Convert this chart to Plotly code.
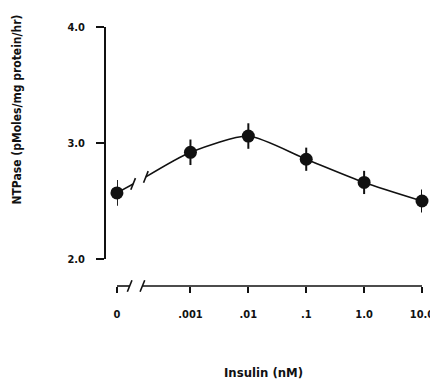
import plotly.graph_objects as go

# ---- data ----
dose_labels = ["0", ".001", ".01", ".1", "1.0", "10.0"]
dose_pos = [0.0, 1.27, 2.27, 3.27, 4.27, 5.27]   # axis positions (broken log scale)
ntpase = [2.57, 2.92, 3.06, 2.86, 2.66, 2.50]
err = [0.11, 0.11, 0.11, 0.10, 0.10, 0.10]
y_ticks = [2.0, 3.0, 4.0]
y_ticktext = ["2.0", "3.0", "4.0"]

FONT = "DejaVu Sans Condensed, DejaVu Sans, Liberation Sans, sans-serif"
black = "#111111"

# break positions on the axis (between 0 and .001)
brk1, brk2 = 0.28, 0.50
def interp(x):
    x0, x1 = dose_pos[0], dose_pos[1]
    y0, y1 = ntpase[0], ntpase[1]
    return y0 + (y1 - y0) * (x - x0) / (x1 - x0)

fig = go.Figure()
fig.add_trace(go.Scatter(x=[dose_pos[0], brk1], y=[ntpase[0], interp(brk1)],
                         mode="lines", line=dict(color=black, width=1.6),
                         hoverinfo="skip", showlegend=False))
fig.add_trace(go.Scatter(x=[brk2] + dose_pos[1:], y=[interp(brk2)] + ntpase[1:],
                         mode="lines", line=dict(color=black, width=1.6, shape="spline", smoothing=0.65),
                         hoverinfo="skip", showlegend=False))
fig.add_trace(go.Scatter(x=dose_pos, y=ntpase, mode="markers",
                         marker=dict(color=black, size=13),
                         error_y=dict(type="data", array=err, color=black, thickness=2, width=0),
                         cliponaxis=False, showlegend=False))

shapes = []
for xa, xb in [(dose_pos[0], brk1 - 0.06), (brk2 - 0.06, dose_pos[-1])]:
    shapes.append(dict(type="line", xref="x", yref="paper", x0=xa, x1=xb, y0=0, y1=0,
                       line=dict(color=black, width=1.6)))
for xb in [brk1 - 0.06, brk2 - 0.06]:
    shapes.append(dict(type="line", xref="x", yref="paper", x0=xb - 0.04, x1=xb + 0.04,
                       y0=-0.022, y1=0.022, line=dict(color=black, width=1.6)))
for xb in [brk1, brk2]:
    yb = interp(xb)
    shapes.append(dict(type="line", xref="x", yref="y", x0=xb - 0.04, x1=xb + 0.04,
                       y0=yb - 0.05, y1=yb + 0.05, line=dict(color=black, width=1.6)))

L, R, T, B = 97, 22, 19, 106
pw, ph = 438 - L - R, 384 - T - B

def px_x(x):
    return (x - (L + 8)) / pw
def px_y(y):
    return 1 - (y - (T + 8)) / ph

fig.update_layout(
    width=438, height=384,
    margin=dict(l=L, r=R, t=T, b=B),
    paper_bgcolor="white", plot_bgcolor="white",
    font=dict(family=FONT, color=black, size=11),
    shapes=shapes,
    xaxis=dict(domain=[12 / pw, 1], range=[dose_pos[0], dose_pos[-1]],
               tickvals=dose_pos, ticktext=dose_labels,
               showline=False, showgrid=False, zeroline=False,
               ticks="outside", ticklen=6, tickwidth=1.6, tickcolor=black,
               ticklabelstandoff=12,
               tickfont=dict(family=FONT, size=11, weight="bold"),
               anchor="free", position=0),
    yaxis=dict(domain=[27 / 259, 1], range=[2.0, 4.0],
               tickvals=y_ticks, ticktext=y_ticktext,
               showline=True, linecolor=black, linewidth=1.6,
               showgrid=False, zeroline=False,
               ticks="outside", ticklen=8, tickwidth=1.6, tickcolor=black,
               ticklabelstandoff=9,
               tickfont=dict(family=FONT, size=11, weight="bold"),
               anchor="free", position=0),
    annotations=[
        dict(text="NTPase (pMoles/mg protein/hr)", textangle=-90,
             x=px_x(16), y=px_y(110), xref="paper", yref="paper",
             xanchor="center", yanchor="middle", showarrow=False,
             font=dict(family=FONT, size=12, weight="bold")),
        dict(text="Insulin (nM)", x=px_x(265), y=px_y(372),
             xref="paper", yref="paper", xanchor="center", yanchor="middle",
             showarrow=False, font=dict(family=FONT, size=13, weight="bold")),
    ],
)

fig.write_html("out.html")
